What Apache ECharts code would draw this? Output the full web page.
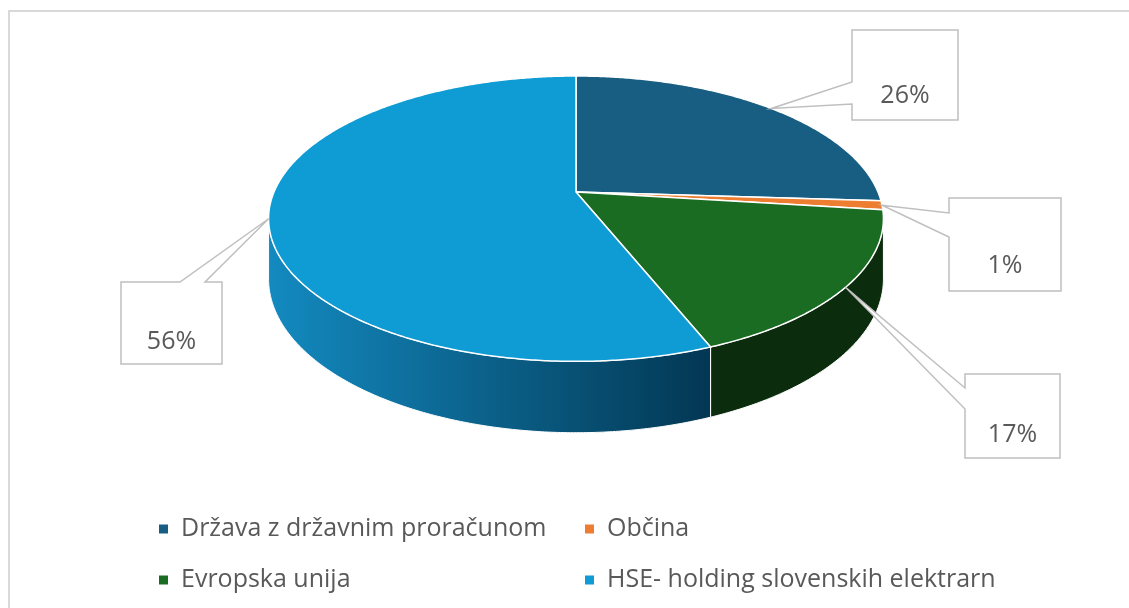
<!DOCTYPE html>
<html>
<head>
<meta charset="utf-8">
<script src="https://cdn.jsdelivr.net/npm/echarts@6/dist/echarts.min.js"></script>
<style>
  html, body { margin: 0; background: #fff; }
  #chart { width: 1129px; height: 608px; }
</style>
</head>
<body>
<div id="chart"></div>
<script>
// podatki
const categories = ['Država z državnim proračunom', 'Občina', 'Evropska unija', 'HSE- holding slovenskih elektrarn'];
const shares = [26, 1, 17, 56];
const labels = ['26%', '1%', '17%', '56%'];

// barve
const topColors = ['#175E82', '#ED7D31', '#1B6C23', '#0F9BD4'];
const sideColors = [['#0d3d55', '#0d3d55'], ['#a4531d', '#a4531d'], ['#0b2d0d', '#0b2d0d'], ['#138ac0', '#033753']];

// "3D" postavitev torte (perspektiva)
const CX = 576, CY = 192, RX = 302, RY = 137.7, K = 0.187, DEPTH = 58;
const WALL_FROM = Math.acos(-K), WALL_TO = 2 * Math.PI - Math.acos(-K);

// okvirji oznak: x, y, w, h, stran kazalca, pritrdišči
const callouts = [
  { x: 852, y: 30, w: 106, h: 90, side: 'left', a: 82, b: 104 },
  { x: 949, y: 198, w: 112, h: 93, side: 'left', a: 213, b: 237 },
  { x: 965, y: 374, w: 95, h: 84, side: 'left', a: 388, b: 409 },
  { x: 121, y: 282, w: 101, h: 82, side: 'top', a: 180, b: 205 }
];

const total = shares.reduce((s, v) => s + v, 0);
const starts = [];
shares.reduce((acc, v) => { starts.push(acc / total * 2 * Math.PI); return acc + v; }, 0);
const sweeps = shares.map(v => v / total * 2 * Math.PI);

function proj(a, down) {
  const t = -Math.cos(a), s = Math.sin(a), d = 1 - K * t;
  return [CX + RX * s / d, CY + (RY * t + (down || 0)) / d];
}

function arc(a0, a1, down) {
  const n = Math.max(2, Math.ceil((a1 - a0) / (Math.PI / 360)));
  const pts = [];
  for (let j = 0; j <= n; j++) pts.push(proj(a0 + (a1 - a0) * j / n, down));
  return pts;
}

function sliceRenderer(i) {
  return function () {
    const a0 = starts[i], a1 = starts[i] + sweeps[i];
    const children = [];
    const w0 = Math.max(a0, WALL_FROM), w1 = Math.min(a1, WALL_TO);
    if (w1 > w0) {
      const pts = arc(w0, w1, 0).concat(arc(w0, w1, DEPTH).reverse());
      children.push({
        type: 'polygon',
        shape: { points: pts },
        style: {
          fill: new echarts.graphic.LinearGradient(0, 0, 1, 0, [
            { offset: 0, color: sideColors[i][0] },
            { offset: 1, color: sideColors[i][1] }
          ]),
          stroke: '#ffffff', lineWidth: 1
        }
      });
    }
    children.push({
      type: 'polygon',
      shape: { points: [[CX, CY]].concat(arc(a0, a1, 0)) },
      style: { fill: topColors[i], stroke: '#ffffff', lineWidth: 1.5 }
    });
    return { type: 'group', children };
  };
}

function renderCallout(params) {
  const i = params.dataIndex;
  const c = callouts[i];
  const tip = proj(starts[i] + sweeps[i] / 2, 0);
  let pts;
  if (c.side === 'left') {
    pts = [[c.x, c.y], [c.x + c.w, c.y], [c.x + c.w, c.y + c.h], [c.x, c.y + c.h], [c.x, c.b], tip, [c.x, c.a]];
  } else {
    pts = [[c.x, c.y], [c.a, c.y], tip, [c.b, c.y], [c.x + c.w, c.y], [c.x + c.w, c.y + c.h], [c.x, c.y + c.h]];
  }
  return {
    type: 'group',
    children: [
      { type: 'polygon', shape: { points: pts }, style: { fill: '#ffffff', stroke: '#BFBFBF', lineWidth: 1.5 } },
      {
        type: 'text',
        style: {
          text: labels[i], x: c.x + c.w / 2, y: c.y + c.h * 0.73,
          align: 'center', verticalAlign: 'middle',
          fontFamily: 'Open Sans', fontSize: 25, fill: '#595959'
        }
      }
    ]
  };
}

const legendText = { fontFamily: 'Open Sans', fontSize: 25, color: '#595959', lineHeight: 30, padding: [0, 0, 0, 8] };

const series = categories.map((name, i) => ({
  type: 'custom',
  name,
  coordinateSystem: 'none',
  silent: true,
  itemStyle: { color: topColors[i] },
  data: [[shares[i]]],
  renderItem: sliceRenderer(i)
}));
series.push({
  type: 'custom',
  name: 'oznake',
  coordinateSystem: 'none',
  silent: true,
  z: 5,
  data: shares.map(v => [v]),
  renderItem: renderCallout
});

const chart = echarts.init(document.getElementById('chart'));
chart.setOption({
  animation: false,
  backgroundColor: '#ffffff',
  graphic: [{
    type: 'rect', shape: { x: 9, y: 11, width: 1200, height: 700 },
    style: { fill: 'none', stroke: '#D9D9D9', lineWidth: 2 }, silent: true
  }],
  legend: [
    {
      data: [categories[0], categories[2]], orient: 'vertical', left: 154, top: 509,
      icon: 'rect', itemWidth: 9, itemHeight: 9, itemGap: 21, selectedMode: false, textStyle: legendText
    },
    {
      data: [categories[1], categories[3]], orient: 'vertical', left: 580, top: 509,
      icon: 'rect', itemWidth: 9, itemHeight: 9, itemGap: 21, selectedMode: false, textStyle: legendText
    }
  ],
  series
});
</script>
</body>
</html>
